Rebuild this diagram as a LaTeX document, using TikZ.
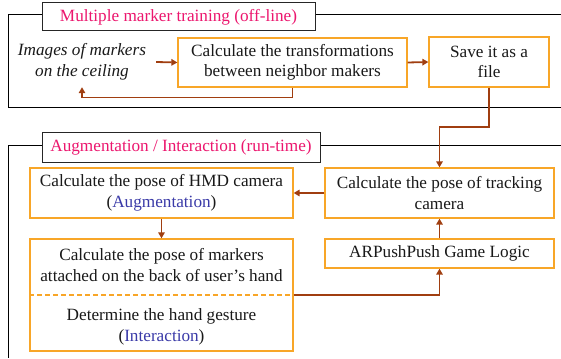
\documentclass[tikz,border=0pt]{standalone}
\usepackage{fontspec}
\setmainfont{Liberation Serif}
\usetikzlibrary{arrows.meta}
\definecolor{boxorange}{RGB}{248,166,40}
\definecolor{arrowbrown}{RGB}{160,62,16}
\definecolor{titlepink}{RGB}{236,22,110}
\definecolor{noteblue}{RGB}{58,58,168}
\definecolor{textdark}{RGB}{25,25,25}
\tikzset{
  txt/.style={font=\fontsize{17.2}{20.5}\selectfont, text=textdark, align=center, inner sep=0pt},
  obox/.style={txt, draw=boxorange, line width=1.3pt, fill=white},
  tbox/.style={draw=black!85, line width=1pt, fill=white, inner sep=0pt,
               font=\fontsize{17.2}{20.5}\selectfont, text=titlepink},
  frameline/.style={draw=black, line width=1pt},
  conn/.style={draw=arrowbrown, line width=1.8pt, -{Triangle[length=6pt,width=6.5pt]}},
}
\begin{document}
\begin{tikzpicture}[x=1pt,y=-1pt]
\useasboundingbox (0,0) rectangle (561,358);
% frames
\path[frameline] (42,15) -- (8,15) -- (8,108) -- (561,108);
\path[frameline] (315,15) -- (561,15);
\path[frameline] (42,146) -- (8,146) -- (8,358);
\path[frameline] (320,146) -- (561,146);
% titles
\node[tbox, minimum width=273pt, minimum height=28pt] (t1) at (178.5,17) {Multiple marker training (off-line)};
\node[tbox, minimum width=278pt, minimum height=29pt] (t2) at (181,147.5) {Augmentation / Interaction (run-time)};
% top section
\node[txt, font=\fontsize{17.2}{20.5}\selectfont\itshape, minimum width=148pt, minimum height=50pt] (img) at (82,62) {Images of markers\\on the ceiling};
\node[obox, minimum width=229pt, minimum height=49pt] (calc) at (292.5,62.5) {Calculate the transformations\\between neighbor makers};
\node[obox, minimum width=120pt, minimum height=50pt] (save) at (489,62) {Save it as a\\file};
\coordinate (back) at (292.5,97.5);
\coordinate (bend) at (439.5,127);
% bottom section
\node[obox, minimum width=263pt, minimum height=50pt] (hmd) at (161.5,193) {Calculate the pose of HMD camera\\(\textcolor{noteblue}{Augmentation})};
\node[obox, minimum width=229pt, minimum height=50pt] (track) at (439.5,193) {Calculate the pose of tracking\\camera};
\node[obox, minimum width=229pt, minimum height=29pt] (game) at (439.5,253.5) {ARPushPush Game Logic};
\node[obox, minimum width=263pt, minimum height=112pt] (big) at (161.5,295) {};
\draw[boxorange, line width=1.3pt, dash pattern=on 5pt off 3pt] (big.west) -- (big.east);
\node[txt] (pose) at (161.5,265) {Calculate the pose of markers\\attached on the back of user’s hand};
\node[txt] (gest) at (161.5,327) {Determine the hand gesture\\(\textcolor{noteblue}{Interaction})};
% connectors
\draw[conn] (img.east) -- (calc.west);
\draw[conn] (calc.east) -- (save.west);
\draw[conn] (calc.south) -- (back) -| (img.south);
\draw[conn] (save.south) |- (bend) -- (track.north);
\draw[conn] (track.west) -- (hmd.east);
\draw[conn] (hmd.south) -- (big.north);
\draw[conn] (game.north) -- (track.south);
\draw[conn] (big.east) -| (game.south);
\end{tikzpicture}
\end{document}
